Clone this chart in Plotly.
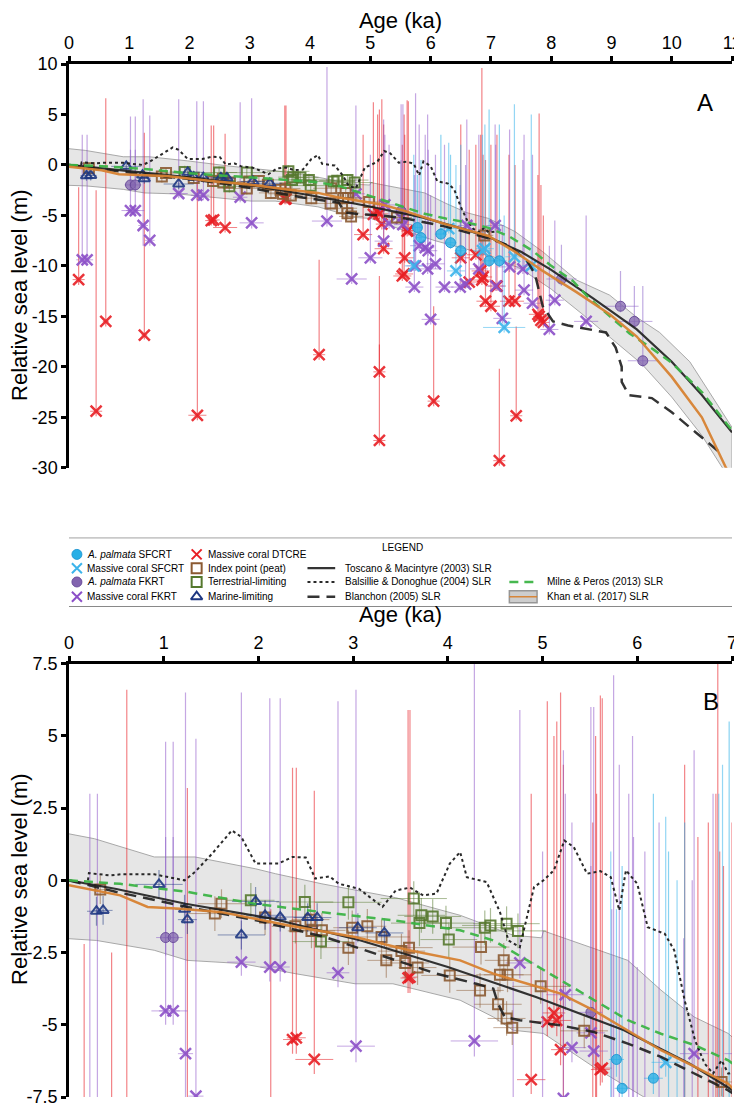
import plotly.graph_objects as go

# ---------------- data (age in ka, relative sea level in m) ----------------
# A. palmata SFCRT
aps_age = [5.78, 5.84, 6.17, 6.33, 6.50, 6.97, 7.14]
aps_rsl = [-6.2, -7.2, -6.85, -7.7, -8.5, -9.5, -9.5]
aps_top = [-1.0, 0.5, 3.0, 1.0, 2.0, 5.5, 4.0]
aps_bot = [-6.8, -7.8, -7.4, -8.3, -9.1, -10.1, -10.1]
aps_xerr = [0.08, 0.08, 0.10, 0.10, 0.10, 0.12, 0.12]

# Massive coral SFCRT
mcs_age = [5.72, 6.30, 6.42, 6.86, 6.90, 7.22, 7.39, 7.67]
mcs_rsl = [-10.0, -6.3, -10.5, -8.5, -8.3, -16.1, -9.1, -10.0]
mcs_top = [1.0, 2.2, 0.0, 3.0, 4.0, -5.0, 6.0, 5.0]
mcs_bot = [-10.5, -6.8, -11.0, -9.0, -8.8, -16.6, -9.6, -10.5]
mcs_xerr = [0.15, 0.15, 0.15, 0.15, 0.15, 0.35, 0.15, 0.15]

# A. palmata FKRT
apf_age = [1.02, 1.10, 5.51, 8.17, 9.15, 9.38, 9.52]
apf_rsl = [-1.98, -1.98, -4.57, -11.3, -14.0, -15.5, -19.4]
apf_top = [1.5, 1.5, 0.5, -7.9, -10.5, -12.0, -12.0]
apf_bot = [-2.6, -2.6, -5.2, -12.0, -14.6, -16.1, -20.0]
apf_xerr = [0.10, 0.10, 0.12, 0.25, 0.30, 0.30, 0.25]

# Massive coral FKRT
mcf_age = [0.22, 0.30, 1.02, 1.10, 1.23, 1.34, 1.82, 2.12, 2.23, 2.84, 3.03, 4.28, 4.76,
           5.00, 5.22, 5.24, 5.31, 5.51, 5.54, 4.69, 5.81, 5.91, 5.96, 5.75, 5.73, 5.95,
           6.00, 6.08, 6.23, 6.49, 6.60, 6.58, 6.80, 7.07, 7.08, 7.19, 7.31, 7.53, 7.55,
           7.69, 8.06, 7.97, 8.58]
mcf_rsl = [-9.4, -9.4, -4.52, -4.52, -6.0, -7.47, -2.83, -3.0, -3.0, -3.2, -5.74, -5.56, -2.86,
           -9.2, -7.55, -3.96, -5.79, -5.28, -5.91, -11.3, -8.0, -8.2, -8.5, -10.0, -12.1, -10.3,
           -15.3, -9.8, -12.1, -12.1, -6.0, -11.8, -10.3, -6.0, -12.0, -15.2, -10.1, -10.3, -12.4,
           -13.7, -13.4, -16.3, -15.5]
mcf_top = [3.0, 3.0, 4.8, 4.8, 6.5, 4.9, 6.5, 6.3, 6.3, 6.2, 6.6, 9.7, 5.9,
           1.0, 4.5, 3.0, 2.0, 6.0, 6.0, -3.5, 4.0, 3.0, 1.5, 7.1, -1.0, 5.0,
           -3.0, 1.0, 2.0, -2.0, 4.5, 0.0, 3.0, 4.0, 2.0, -6.0, 3.5, 0.5, 3.0,
           1.0, -5.5, -8.0, -5.0]
mcf_bot = [-9.9, -9.9, -5.0, -5.0, -8.0, -8.0, -3.3, -3.5, -3.5, -3.7, -6.3, -6.1, -3.4,
           -9.7, -8.1, -4.5, -6.3, -5.8, -6.4, -11.8, -8.5, -8.7, -9.0, -10.5, -12.6, -10.8,
           -15.8, -10.3, -12.6, -12.6, -6.5, -12.3, -10.8, -6.5, -12.5, -15.7, -10.6, -10.8, -12.9,
           -14.2, -13.9, -16.8, -16.0]
mcf_xerr = [0.10, 0.10, 0.15, 0.15, 0.08, 0.08, 0.15, 0.10, 0.10, 0.12, 0.20, 0.25, 0.15,
            0.20, 0.15, 0.20, 0.15, 0.15, 0.15, 0.25, 0.15, 0.15, 0.15, 0.15, 0.15, 0.20,
            0.15, 0.15, 0.15, 0.15, 0.15, 0.15, 0.15, 0.15, 0.15, 0.15, 0.20, 0.15, 0.15,
            0.15, 0.15, 0.15, 0.20]

# Massive coral DTCRE
dtc_age = [0.16, 0.45, 0.61, 1.25, 2.13, 2.36, 2.40, 2.59, 3.58, 3.60, 4.15, 4.88, 5.12, 5.05,
           5.15, 5.19, 5.61, 5.63, 5.15, 5.15, 5.22, 5.53, 5.57, 5.56, 6.05, 6.50, 6.85, 6.64,
           6.75, 6.83, 6.87, 6.91, 7.00, 7.10, 7.14, 7.30, 7.40, 7.42, 7.80, 7.83, 7.78, 7.87]
dtc_rsl = [-11.36, -24.4, -15.5, -16.85, -24.8, -5.51, -5.45, -6.2, -3.38, -3.35, -18.8, -6.9, -4.59, -4.9,
           -4.85, -5.86, -6.55, -6.5, -20.5, -27.3, -8.3, -11.0, -9.2, -10.8, -23.4, -9.2, -11.4, -11.6,
           -8.9, -10.5, -11.1, -13.5, -14.0, -12.0, -29.3, -13.5, -13.5, -24.85, -15.0, -15.4, -14.8, -15.6]
dtc_top = [-2.2, -2.5, 6.6, 3.2, -1.0, 3.9, 3.9, 3.1, 5.9, 5.9, -9.4, 3.0, 5.0, 6.2,
           5.5, 6.5, 6.4, 6.3, -17.8, -11.0, 4.0, 2.0, 3.0, 5.0, -14.0, 4.0, 9.6, 1.5,
           2.0, 3.0, 1.0, 0.5, 2.0, 3.0, -20.2, 1.0, 0.0, -16.0, 5.1, -2.0, -1.0, -5.0]
dtc_bot = [-11.9, -24.9, -16.0, -17.3, -25.3, -6.0, -6.0, -6.7, -3.9, -3.9, -19.3, -7.4, -5.1, -5.4,
           -5.4, -6.4, -7.1, -7.0, -21.0, -27.8, -8.8, -11.5, -9.7, -11.3, -23.9, -9.7, -11.9, -12.1,
           -9.4, -11.0, -11.6, -14.0, -14.5, -12.5, -29.8, -14.0, -14.0, -25.3, -15.5, -15.9, -15.3, -16.1]
dtc_xerr = [0.10, 0.10, 0.05, 0.05, 0.15, 0.10, 0.10, 0.20, 0.08, 0.08, 0.10, 0.15, 0.12, 0.15,
            0.15, 0.10, 0.10, 0.10, 0.10, 0.10, 0.15, 0.15, 0.15, 0.15, 0.10, 0.15, 0.15, 0.15,
            0.15, 0.15, 0.15, 0.15, 0.15, 0.15, 0.10, 0.15, 0.15, 0.10, 0.10, 0.10, 0.15, 0.10]

# Index point (peat)
peat_age = [0.33, 1.54, 1.61, 2.07, 2.39, 2.55, 2.56, 2.67, 2.95, 2.99, 3.15, 3.30, 3.35, 3.51, 3.55,
            3.59, 3.68, 4.02, 4.34, 4.35, 4.53, 4.55, 4.59, 4.62, 4.63, 4.68, 4.98, 5.44, 6.89]
peat_rsl = [-0.32, -1.15, -0.81, -1.29, -1.59, -1.36, -1.75, -1.73, -2.33, -1.64, -1.59, -1.96, -2.77, -2.45, -2.86,
            -2.33, -3.02, -3.29, -3.81, -2.31, -4.29, -3.27, -2.77, -4.78, -3.27, -5.10, -3.67, -5.21, -6.98]
peat_yerr = [0.5, 0.6, 0.5, 0.6, 0.6, 0.5, 0.6, 0.6, 0.6, 0.6, 0.6, 0.6, 0.6, 0.6, 0.6,
             0.6, 0.6, 0.6, 0.6, 0.6, 0.6, 0.6, 0.6, 0.6, 0.6, 0.6, 0.6, 0.6, 0.5]
peat_xerr = [0.10, 0.30, 0.25, 0.20, 0.25, 0.20, 0.25, 0.25, 0.30, 0.20, 0.20, 0.30, 0.20, 0.25, 0.25,
             0.25, 0.20, 0.30, 0.25, 0.30, 0.25, 0.25, 0.20, 0.20, 0.25, 0.20, 0.30, 0.25, 0.15]

# Terrestrial-limiting
terr_age = [1.92, 2.49, 2.66, 2.95, 3.64, 3.70, 3.72, 3.84, 3.98, 4.01, 4.39, 4.45, 4.62, 4.74]
terr_rsl = [-0.69, -0.75, -2.12, -0.76, -0.63, -1.48, -1.21, -1.25, -1.48, -2.05, -1.64, -1.56, -1.50, -1.75]
terr_yerr = [0.6, 0.6, 0.6, 0.6, 0.6, 0.8, 0.6, 0.6, 0.6, 0.6, 0.6, 0.6, 0.6, 0.6]
terr_xerr = [0.25, 0.30, 0.30, 0.35, 0.35, 0.30, 0.25, 0.30, 0.30, 0.30, 0.35, 0.30, 0.35, 0.30]

# Marine-limiting
mar_age = [0.29, 0.36, 0.95, 1.22, 1.25, 1.82, 1.97, 2.07, 2.23, 2.52, 2.62, 3.05, 3.33]
mar_rsl = [-1.07, -1.04, -0.14, -1.00, -1.36, -1.89, -0.73, -1.21, -1.27, -1.29, -1.29, -1.64, -1.82]
mar_yerr = [0.5, 0.5, 0.5, 0.5, 0.5, 0.5, 0.5, 0.5, 0.5, 0.5, 0.5, 0.5, 0.5]
mar_xerr = [0.10, 0.10, 0.25, 0.10, 0.10, 0.25, 0.25, 0.20, 0.25, 0.15, 0.15, 0.20, 0.20]

# Sea-level curves
tm_age = [0, 0.5, 1.23, 2.15, 3.08, 4.0, 4.93, 5.86, 6.55, 7.0, 7.5, 8.0, 8.69, 9.42, 10.0, 10.5, 11.0]
tm_rsl = [0, -0.3, -0.81, -1.33, -2.08, -3.0, -4.04, -5.19, -6.34, -7.25, -8.6, -10.4, -13.2, -16.3, -19.5, -22.8, -26.5]

bd_age = [0.2, 0.21, 0.44, 0.55, 0.9, 1.22, 1.33, 1.51, 1.72, 1.82, 1.97, 2.21, 2.36, 2.5, 2.6, 2.75, 2.85,
          3.06, 3.31, 3.45, 3.6, 3.74, 3.88, 4.02, 4.13, 4.2, 4.41, 4.55, 4.64, 4.76, 4.91, 5.01, 5.12,
          5.23, 5.33, 5.47, 5.61, 5.72, 5.81, 5.88, 6.0, 6.11, 6.29, 6.39, 6.5, 6.61, 6.71, 6.8, 6.89,
          6.96, 7.08]
bd_rsl = [0.0, 0.25, 0.17, 0.21, 0.21, 0.0, 0.29, 0.92, 1.73, 1.5, 0.58, 0.58, 0.81, 0.79, 0.06, 0.14, -0.12,
          -0.29, -0.92, -0.35, -0.25, -0.52, -0.46, 0.58, 0.98, 0.11, -0.06, -1.1, -2.08, -2.31, -0.23, 0.0, 0.35,
          1.38, 1.15, 0.23, 0.32, 0.11, -1.04, 0.35, -0.12, -1.62, -1.85, -2.42, -4.15, -5.54, -6.34, -6.69, -6.23,
          -6.69, -6.6]

bl_age = [0, 0.5, 1.25, 2.0, 2.7, 3.24, 3.88, 4.3, 4.48, 4.53, 4.6, 4.76, 5.19, 5.54, 5.9, 6.25, 6.61,
          6.96, 7.3, 7.6, 7.7, 7.75, 7.86, 8.03, 8.28, 8.58, 8.91, 9.07, 9.17, 9.17, 9.29, 9.67, 10.0,
          10.4, 10.8]
bl_rsl = [0, -0.4, -0.92, -1.4, -1.96, -2.54, -3.23, -3.58, -3.75, -4.27, -4.73, -4.84, -5.02, -5.25, -5.65,
          -6.11, -6.69, -7.27, -8.0, -9.5, -10.5, -11.3, -14.0, -15.5, -15.9, -16.2, -16.6, -18.1, -20.0,
          -21.5, -22.8, -23.1, -24.5, -26.5, -28.5]

mp_age = [0, 0.54, 1.25, 1.96, 2.67, 3.42, 4.13, 4.48, 4.84, 5.19, 5.54, 5.9, 6.25, 6.61, 6.96, 7.31,
          7.69, 8.0, 8.36, 8.58, 8.86, 9.08, 9.3, 9.7, 10.0, 10.5, 11.0]
mp_rsl = [0, -0.12, -0.4, -0.81, -1.1, -1.38, -1.73, -2.08, -2.77, -3.46, -4.15, -4.84, -5.31, -5.71, -6.23,
          -7.1, -8.5, -10.0, -11.5, -12.9, -14.4, -15.6, -16.7, -18.3, -19.6, -22.5, -26.3]

kh_age = [0, 0.54, 0.83, 1.18, 1.61, 2.32, 3.02, 3.59, 4.13, 4.48, 4.84, 5.19, 5.54, 5.9, 6.25, 6.61,
          6.96, 7.4, 7.86, 8.42, 8.97, 9.42, 10.0, 10.5, 10.9, 11.0]
kh_rsl = [-0.17, -0.52, -0.92, -0.98, -1.1, -1.56, -1.96, -2.42, -2.77, -3.23, -3.58, -3.92, -4.5, -5.19,
          -5.88, -6.46, -7.04, -8.6, -10.5, -12.6, -14.8, -17.0, -21.0, -25.0, -30.0, -31.0]
kh_up_age = [0, 0.27, 0.9, 1.33, 1.97, 2.18, 2.67, 3.45, 4.13, 4.69, 4.99, 5.01, 5.9, 6.25, 6.6, 6.96,
             7.4, 7.86, 8.42, 8.97, 9.42, 9.8, 10.3, 11.0]
kh_up_rsl = [1.61, 1.44, 0.81, 0.81, 0.4, 0.23, -0.12, -0.6, -1.21, -1.9, -1.99, -1.75, -2.77, -3.8, -4.73,
             -5.3, -6.6, -8.6, -11.4, -12.9, -15.1, -16.6, -19.5, -26.0]
kh_lo_age = [0, 0.29, 0.9, 1.25, 1.82, 2.39, 3.02, 3.42, 4.13, 4.48, 4.69, 5.01, 5.54, 6.07, 6.5, 7.0,
             7.5, 8.0, 8.5, 9.0, 9.5, 10.0, 10.5, 11.0]
kh_lo_rsl = [-2.02, -2.08, -2.42, -2.77, -2.88, -3.23, -3.58, -3.58, -4.15, -4.73, -5.19, -5.3, -6.46, -7.5,
             -8.2, -9.0, -10.3, -12.3, -14.7, -17.2, -19.7, -23.0, -26.8, -31.5]

ticks_a_x = list(range(0, 12))
ticks_a_y = [10, 5, 0, -5, -10, -15, -20, -25, -30]
ticks_b_x = list(range(0, 8))
ticks_b_y = [7.5, 5, 2.5, 0, -2.5, -5, -7.5]

# ---------------- styles ----------------
FONT = "Liberation Sans, Arial, sans-serif"
LFONT = "Liberation Sans, Arial, sans-serif"
STY = {
    "aps": dict(symbol="circle", color="rgba(40,175,230,0.8)", ecolor="rgba(40,175,230,0.55)",
                size=10, lw=1, lcolor="rgba(30,150,210,0.9)"),
    "mcs": dict(symbol="x-thin", color="rgba(60,180,235,0.9)", ecolor="rgba(60,180,235,0.55)",
                size=11, lw=2.5, lcolor=None),
    "apf": dict(symbol="circle", color="rgba(130,100,175,0.75)", ecolor="rgba(140,100,200,0.55)",
                size=10, lw=1, lcolor="rgba(100,70,150,0.9)"),
    "mcf": dict(symbol="x-thin", color="rgba(140,80,200,0.9)", ecolor="rgba(140,80,200,0.5)",
                size=11, lw=2.5, lcolor=None),
    "dtc": dict(symbol="x-thin", color="rgba(232,30,36,0.9)", ecolor="rgba(232,30,36,0.55)",
                size=11, lw=2.5, lcolor=None),
    "peat": dict(symbol="square-open", color="rgba(139,90,50,0.9)", ecolor="rgba(139,90,50,0.5)",
                 size=10, lw=2, lcolor=None),
    "terr": dict(symbol="square-open", color="rgba(85,120,45,0.9)", ecolor="rgba(85,120,45,0.5)",
                 size=10, lw=2, lcolor=None),
    "mar": dict(symbol="triangle-up-open", color="rgba(30,55,130,0.9)", ecolor="rgba(30,55,130,0.5)",
                size=10, lw=2, lcolor=None),
}
LINES = {
    "tm": dict(color="rgba(30,30,30,0.9)", width=2.2),
    "bd": dict(color="rgba(30,30,30,0.95)", width=2, dash="dot"),
    "bl": dict(color="rgba(30,30,30,0.9)", width=2.5, dash="12px,7px"),
    "mp": dict(color="rgba(60,180,70,0.95)", width=2.5, dash="9px,6px"),
    "kh": dict(color="rgba(215,130,50,0.95)", width=2.5),
}

fig = go.Figure()
PANELS = [("x", "y"), ("x2", "y2")]

# Khan band
band_x = kh_up_age + kh_lo_age[::-1]
band_y = kh_up_rsl + kh_lo_rsl[::-1]
for xa, ya in PANELS:
    fig.add_trace(go.Scatter(x=band_x, y=band_y, mode="lines", fill="toself",
                             fillcolor="rgba(200,200,200,0.45)",
                             line=dict(color="rgba(160,160,160,0.9)", width=1),
                             showlegend=False, xaxis=xa, yaxis=ya, hoverinfo="skip"))


def add_points(key, age, rsl, up, dn, xerr):
    s = STY[key]
    for xa, ya in PANELS:
        fig.add_trace(go.Scatter(
            x=age, y=rsl, mode="markers", showlegend=False, xaxis=xa, yaxis=ya, hoverinfo="skip",
            marker=dict(symbol=s["symbol"], size=s["size"], color=s["color"],
                        line=dict(width=s["lw"], color=s["lcolor"] or s["color"])),
            error_y=dict(type="data", symmetric=False, array=up, arrayminus=dn,
                         color=s["ecolor"], thickness=1.2, width=0),
            error_x=dict(type="data", array=xerr, color=s["ecolor"], thickness=1, width=0),
        ))


def updn(rsl, top, bot):
    return [t - r for t, r in zip(top, rsl)], [r - b for r, b in zip(rsl, bot)]


def add_curve(key, age, rsl):
    for xa, ya in PANELS:
        fig.add_trace(go.Scatter(x=age, y=rsl, mode="lines", line=LINES[key],
                                 xaxis=xa, yaxis=ya, showlegend=False, hoverinfo="skip"))


up, dn = updn(dtc_rsl, dtc_top, dtc_bot)
add_points("dtc", dtc_age, dtc_rsl, up, dn, dtc_xerr)
up, dn = updn(mcf_rsl, mcf_top, mcf_bot)
add_points("mcf", mcf_age, mcf_rsl, up, dn, mcf_xerr)
up, dn = updn(mcs_rsl, mcs_top, mcs_bot)
add_points("mcs", mcs_age, mcs_rsl, up, dn, mcs_xerr)
up, dn = updn(apf_rsl, apf_top, apf_bot)
add_points("apf", apf_age, apf_rsl, up, dn, apf_xerr)
up, dn = updn(aps_rsl, aps_top, aps_bot)
add_points("aps", aps_age, aps_rsl, up, dn, aps_xerr)
add_points("peat", peat_age, peat_rsl, peat_yerr, peat_yerr, peat_xerr)
add_points("terr", terr_age, terr_rsl, terr_yerr, terr_yerr, terr_xerr)
add_points("mar", mar_age, mar_rsl, mar_yerr, mar_yerr, mar_xerr)

add_curve("tm", tm_age, tm_rsl)
add_curve("bd", bd_age, bd_rsl)
add_curve("bl", bl_age, bl_rsl)
add_curve("mp", mp_age, mp_rsl)
add_curve("kh", kh_age, kh_rsl)

# ---------------- layout ----------------
W, H = 742, 1108
ML, MR, MT, MB = 61, 11, 50, 9
PH = H - MT - MB
PW = W - ML - MR


def py(p):  # pixel y -> paper y
    return (H - MB - p) / PH


def px(p):
    return (p - ML) / PW


A_BOTTOM, B_TOP = 460, 659
BOX_TOP, BOX_BOT, BOX_L, BOX_R = 531, 601, 56, 735

axis_common = dict(showline=True, linewidth=2.5, linecolor="black", ticks="outside",
                   ticklen=5, tickwidth=2.5, tickcolor="black", showgrid=False,
                   zeroline=False, tickfont=dict(size=18, family=FONT, color="black"))


def fmt(v):
    return ("%g" % v)


fig.update_layout(
    width=W, height=H, margin=dict(l=ML, r=MR, t=MT, b=MB),
    paper_bgcolor="white", plot_bgcolor="white",
    font=dict(family=FONT, color="black"), showlegend=False,
    xaxis=dict(domain=[0, 1], range=[0, 11], side="top", anchor="y",
               tickvals=ticks_a_x, ticktext=[fmt(v) for v in ticks_a_x],
               title=dict(text="Age (ka)", font=dict(size=22), standoff=1), **axis_common),
    yaxis=dict(domain=[py(A_BOTTOM), 1], range=[-30, 10], anchor="x",
               tickvals=ticks_a_y, ticktext=[fmt(v) for v in ticks_a_y], **axis_common),
    xaxis2=dict(domain=[0, 1], range=[0, 7], side="top", anchor="y2",
                tickvals=ticks_b_x, ticktext=[fmt(v) for v in ticks_b_x],
                title=dict(text="Age (ka)", font=dict(size=22), standoff=5), **axis_common),
    yaxis2=dict(domain=[0, py(B_TOP)], range=[-7.5, 7.5], anchor="x2",
                tickvals=ticks_b_y, ticktext=[fmt(v) for v in ticks_b_y], **axis_common),
    # hidden pixel-space axes for the hand-built legend box
    xaxis3=dict(domain=[0, 1], range=[ML, W - MR], visible=False, anchor="y3", fixedrange=True),
    yaxis3=dict(domain=[py(BOX_BOT), py(BOX_TOP)], range=[BOX_BOT, BOX_TOP], visible=False,
                anchor="x3", fixedrange=True),
)

# y-axis titles (placed as rotated text)
for ycen in (285, 878):
    fig.add_annotation(text="Relative sea level (m)", xref="paper", yref="paper",
                       x=px(11), y=py(ycen), xanchor="center", yanchor="middle",
                       textangle=-90, showarrow=False, font=dict(size=22, family=FONT))

# ---------------- legend (manual, 4 columns) ----------------
leg_names = ["<i>A. palmata</i> SFCRT", "Massive coral SFCRT", "<i>A. palmata</i> FKRT",
             "Massive coral FKRT", "Massive coral DTCRE", "Index point (peat)",
             "Terrestrial-limiting", "Marine-limiting"]
leg_keys = ["aps", "mcs", "apf", "mcf", "dtc", "peat", "terr", "mar"]
line_names = ["Toscano & Macintyre (2003) SLR", "Balsillie & Donoghue (2004) SLR",
              "Blanchon (2005) SLR", "Milne & Peros (2013) SLR", "Khan et al. (2017) SLR"]
line_keys = ["tm", "bd", "bl", "mp", "kh"]
ROWS = [548, 562, 576, 591]
COLX = [(69, 77), (190, 199)]
LINE_COLS = [((302, 330), 338, [1, 2, 3]), ((506, 534), 542, [2, 3])]
LSIZE = 10

fig.add_shape(type="rect", xref="x3", yref="y3", x0=BOX_L, x1=BOX_R, y0=BOX_BOT, y1=BOX_TOP,
              line=dict(color="black", width=1), fillcolor="rgba(0,0,0,0)", layer="above")
fig.add_annotation(text="LEGEND", xref="x3", yref="y3", x=398, y=541, showarrow=False,
                   font=dict(size=LSIZE, family=LFONT))

for i, (nm, key) in enumerate(zip(leg_names, leg_keys)):
    col, row = divmod(i, 4)
    mx, tx = COLX[col]
    s = STY[key]
    solid = s["color"].rsplit(",", 1)[0] + ",1)"
    fig.add_trace(go.Scatter(x=[mx], y=[ROWS[row]], mode="markers", xaxis="x3", yaxis="y3",
                             showlegend=False, hoverinfo="skip", cliponaxis=False,
                             marker=dict(symbol=s["symbol"], size=10, color=solid,
                                         line=dict(width=min(s["lw"], 2),
                                                   color=(s["lcolor"] or solid)))))
    fig.add_annotation(text=nm, xref="x3", yref="y3", x=tx, y=ROWS[row], xanchor="left",
                       showarrow=False, font=dict(size=LSIZE, family=LFONT))

slot = 0
for (x0, x1), tx, rows in LINE_COLS:
    for r in rows:
        key = line_keys[slot]
        nm = line_names[slot]
        yy = ROWS[r]
        if key == "kh":
            fig.add_shape(type="rect", xref="x3", yref="y3", x0=x0, x1=x1, y0=yy + 6, y1=yy - 6,
                          line=dict(color="rgba(150,150,150,1)", width=1.5),
                          fillcolor="rgba(200,200,200,0.9)", layer="below")
        fig.add_trace(go.Scatter(x=[x0, x1], y=[yy, yy], mode="lines", xaxis="x3", yaxis="y3",
                                 showlegend=False, hoverinfo="skip",
                                 line=dict(LINES[key], width=(1.5 if key == "kh" else LINES[key]["width"]))))
        fig.add_annotation(text=nm, xref="x3", yref="y3", x=tx, y=yy, xanchor="left",
                           showarrow=False, font=dict(size=LSIZE, family=LFONT))
        slot += 1

fig.add_annotation(text="A", xref="paper", yref="paper", x=px(714), y=py(73),
                   showarrow=False, font=dict(size=24, family=FONT))
fig.add_annotation(text="B", xref="paper", yref="paper", x=px(720), y=py(697),
                   showarrow=False, font=dict(size=24, family=FONT))

fig.write_html("out.html")
